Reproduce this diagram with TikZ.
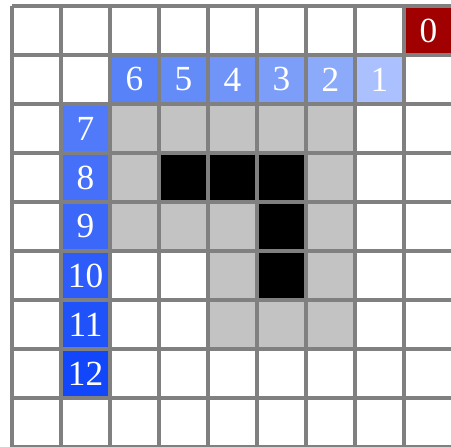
\documentclass[tikz,border=0pt]{standalone}
\usepackage{fontspec}
\setmainfont{Liberation Serif}
\definecolor{gridgray}{RGB}{128,128,128}
\definecolor{wallgray}{RGB}{195,195,195}
\definecolor{goalred}{RGB}{160,0,0}
\definecolor{stepA}{RGB}{170,192,255}
\definecolor{stepB}{RGB}{140,170,250}
\definecolor{stepC}{RGB}{125,158,248}
\definecolor{stepD}{RGB}{112,148,248}
\definecolor{stepE}{RGB}{100,140,248}
\definecolor{stepF}{RGB}{88,130,248}
\definecolor{stepG}{RGB}{80,122,250}
\definecolor{stepH}{RGB}{70,112,250}
\definecolor{stepI}{RGB}{60,104,250}
\definecolor{stepJ}{RGB}{45,92,250}
\definecolor{stepK}{RGB}{32,82,250}
\definecolor{stepL}{RGB}{18,70,250}
\usetikzlibrary{positioning}

\begin{document}
\begin{tikzpicture}[
      cell/.style={minimum size=1cm, inner sep=0pt, font=\fontsize{20.5}{24}\selectfont, text=white},
      gridln/.style={gridgray, line width=2.5pt}
    ]
      \useasboundingbox (-0.245,0.122) rectangle (8.959,-8.98);
      \fill[white] (-0.245,0.122) rectangle (8.959,-8.98);
      % goal cell
      \node[cell, fill=goalred] (n0) at (8.5,-0.5) {0};
      % path cells
      \node[cell, fill=stepA] (n1) at (7.5,-1.5) {1};
      \node[cell, fill=stepB] (n2) at (6.5,-1.5) {2};
      \node[cell, fill=stepC] (n3) at (5.5,-1.5) {3};
      \node[cell, fill=stepD] (n4) at (4.5,-1.5) {4};
      \node[cell, fill=stepE] (n5) at (3.5,-1.5) {5};
      \node[cell, fill=stepF] (n6) at (2.5,-1.5) {6};
      \node[cell, fill=stepG] (n7) at (1.5,-2.5) {7};
      \node[cell, fill=stepH] (n8) at (1.5,-3.5) {8};
      \node[cell, fill=stepI] (n9) at (1.5,-4.5) {9};
      \node[cell, fill=stepJ] (n10) at (1.5,-5.5) {10};
      \node[cell, fill=stepK] (n11) at (1.5,-6.5) {11};
      \node[cell, fill=stepL] (n12) at (1.5,-7.5) {12};
      % margin around the obstacle
      \foreach \c/\r [count=\k] in {2/2,3/2,4/2,5/2,6/2,2/3,6/3,2/4,3/4,4/4,6/4,4/5,6/5,4/6,5/6,6/6}
        \node[cell, fill=wallgray] (g\k) at (\c+0.5,-\r-0.5) {};
      % obstacle
      \foreach \c/\r [count=\k] in {3/3,4/3,5/3,5/4,5/5}
        \node[cell, fill=black] (b\k) at (\c+0.5,-\r-0.5) {};
      \draw[gridln] (0,-9) grid (9,0);
    \end{tikzpicture}
\end{document}
